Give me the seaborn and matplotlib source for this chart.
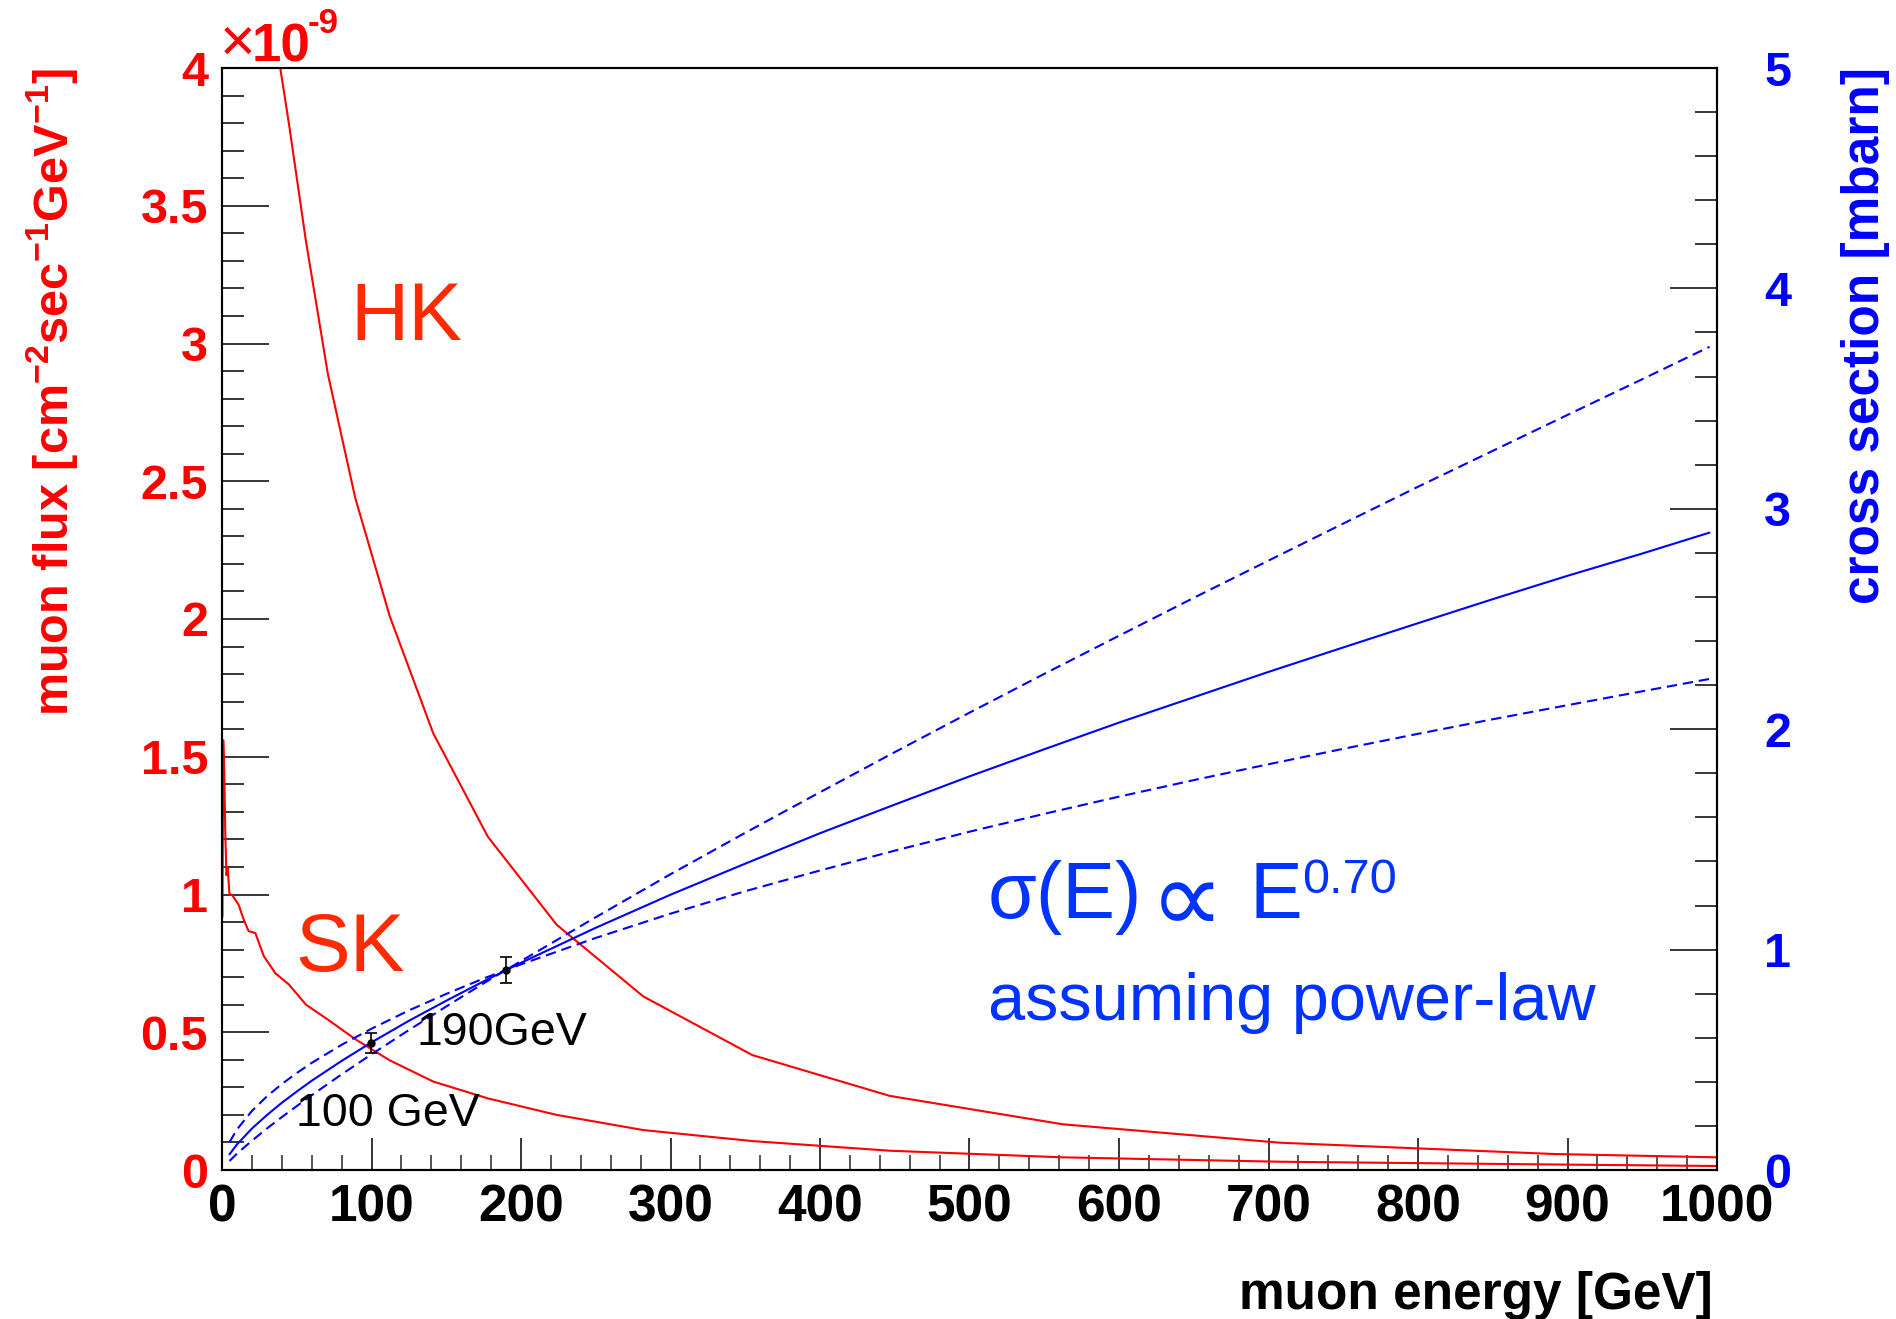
import matplotlib
matplotlib.use("Agg")
import matplotlib.pyplot as plt
from matplotlib.ticker import MultipleLocator
import numpy as np
import pandas as pd
import seaborn as sns

# ---------------- data ----------------
# HK muon flux, units of 1e-9 cm^-2 s^-1 GeV^-1
hk_energy = [35.5, 44.7, 56.2, 70.8, 89.1, 112.2, 141.3, 177.8, 223.9, 281.8,
             354.8, 446.7, 562.3, 707.9, 891.3, 1000]
hk_flux = [4.12, 3.80, 3.37, 2.89, 2.44, 2.01, 1.585, 1.21, 0.89, 0.63,
           0.417, 0.269, 0.166, 0.099, 0.058, 0.046]

# SK muon flux, units of 1e-9
sk_energy = [0.3, 0.8, 1.5, 2.2, 3.0, 3.8, 4.5, 5.0, 6.7, 11.1, 14.5, 17.8,
             22.3, 27.9, 35.7, 44.6, 56.2, 70.8, 89.1, 112.2, 141.3, 177.8,
             223.9, 281.8, 354.8, 446.7, 562.3, 707.9, 891.3, 1000]
sk_flux = [0.92, 1.56, 1.45, 1.22, 1.07, 1.10, 1.04, 1.00, 0.999, 0.963,
           0.909, 0.867, 0.86, 0.777, 0.714, 0.674, 0.60, 0.546, 0.475,
           0.398, 0.321, 0.26, 0.20, 0.145, 0.105, 0.070, 0.046, 0.030,
           0.020, 0.0145]

# cross section curves [mbarn]
xs_energy = [5, 10, 20, 30, 40, 50, 60, 80, 100, 125, 150, 175, 200, 250,
             300, 350, 400, 450, 500, 550, 600, 650, 700, 750, 800, 850,
             900, 950, 995]
xs_central = [0.071, 0.116, 0.188, 0.249, 0.305, 0.356, 0.405, 0.495, 0.579,
              0.677, 0.768, 0.856, 0.940, 1.099, 1.249, 1.390, 1.528, 1.658,
              1.786, 1.909, 2.030, 2.145, 2.260, 2.371, 2.481, 2.590, 2.696,
              2.797, 2.892]
xs_steep = [0.041, 0.074, 0.133, 0.188, 0.240, 0.290, 0.339, 0.434, 0.525,
            0.635, 0.742, 0.847, 0.948, 1.147, 1.342, 1.530, 1.714, 1.896,
            2.075, 2.251, 2.424, 2.596, 2.765, 2.933, 3.100, 3.263, 3.426,
            3.588, 3.735]
xs_flat = [0.126, 0.184, 0.268, 0.334, 0.390, 0.440, 0.486, 0.568, 0.641,
           0.724, 0.799, 0.869, 0.933, 1.053, 1.163, 1.265, 1.359, 1.449,
           1.535, 1.616, 1.694, 1.769, 1.841, 1.911, 1.979, 2.045, 2.109,
           2.172, 2.228]

# measured points
meas_energy = [100, 190]
meas_xs = [0.578, 0.907]
meas_err = [0.045, 0.058]

x_ticks = list(range(0, 1001, 100))
flux_ticks = [0, 0.5, 1, 1.5, 2, 2.5, 3, 3.5, 4]
xs_ticks = [0, 1, 2, 3, 4, 5]

# ---------------- style ----------------
sns.set_style("white")
plt.rcParams["font.family"] = ["Liberation Sans", "DejaVu Sans"]
plt.rcParams["font.weight"] = "bold"
plt.rcParams["mathtext.fontset"] = "custom"
plt.rcParams["mathtext.rm"] = "Liberation Sans:bold"
plt.rcParams["mathtext.bf"] = "Liberation Sans:bold"
plt.rcParams["mathtext.it"] = "Liberation Sans:bold"
plt.rcParams["mathtext.default"] = "regular"

W, H = 1896, 1319
fig = plt.figure(figsize=(W / 100, H / 100), dpi=100)
fig.patch.set_facecolor("white")

L, R, T, B = 222, 1717, 68, 1170
ax = fig.add_axes([L / W, 1 - B / H, (R - L) / W, (B - T) / H])
ax2 = ax.twinx()

def fx(px):
    return px / W

def fy(py):
    return 1 - py / H

RED = "#ff0000"
BLUE = "#0000ff"

hk = pd.DataFrame({"E": hk_energy, "F": hk_flux})
sk = pd.DataFrame({"E": sk_energy, "F": sk_flux})
xs = pd.DataFrame({"E": xs_energy, "c": xs_central, "s": xs_steep, "f": xs_flat})

sns.lineplot(data=hk, x="E", y="F", ax=ax, color=RED, lw=1.5,
             estimator=None, sort=False)
sns.lineplot(data=sk, x="E", y="F", ax=ax, color=RED, lw=1.5,
             estimator=None, sort=False)

sns.lineplot(data=xs, x="E", y="c", ax=ax2, color=BLUE, lw=1.5,
             estimator=None, sort=False)
sns.lineplot(data=xs, x="E", y="s", ax=ax2, color=BLUE, lw=1.5,
             estimator=None, sort=False, linestyle=(0, (5, 2.8)))
sns.lineplot(data=xs, x="E", y="f", ax=ax2, color=BLUE, lw=1.5,
             estimator=None, sort=False, linestyle=(0, (5, 2.8)))
ax2.errorbar(meas_energy, meas_xs, yerr=meas_err, fmt="o", color="black",
             ms=5, capsize=4.5, elinewidth=1.2, capthick=1.2, zorder=5)

# ---------------- axes ----------------
ax.set_xlim(0, 1000)
ax.set_ylim(0, 4)
ax2.set_ylim(0, 5)
ax.set_xlabel("")
ax.set_ylabel("")
ax2.set_xlabel("")
ax2.set_ylabel("")

ax.set_xticks(x_ticks)
ax.set_xticklabels([str(v) for v in x_ticks])
ax.xaxis.set_minor_locator(MultipleLocator(20))
ax.set_yticks(flux_ticks)
ax.set_yticklabels([f"{v:g}" for v in flux_ticks])
ax.yaxis.set_minor_locator(MultipleLocator(0.1))
ax2.set_yticks(xs_ticks)
ax2.set_yticklabels([str(v) for v in xs_ticks])
ax2.yaxis.set_minor_locator(MultipleLocator(0.2))

ax.tick_params(axis="x", which="major", direction="in", length=22.8, width=1.1,
               bottom=True, top=False, labelsize=37, pad=10, colors="black")
ax.tick_params(axis="x", which="minor", direction="in", length=10.8, width=1.1,
               bottom=True, top=False)
ax.tick_params(axis="y", which="major", direction="in", length=33.6, width=1.1,
               left=True, right=False, labelsize=35, pad=10, labelcolor=RED,
               color="black")
ax.tick_params(axis="y", which="minor", direction="in", length=16.0, width=1.1,
               left=True, right=False, color="black")
ax2.tick_params(axis="y", which="major", direction="in", length=33.6, width=1.1,
                right=True, left=False, labelsize=35, pad=34, labelcolor=BLUE,
                color="black")
ax2.tick_params(axis="y", which="minor", direction="in", length=16.0, width=1.1,
                right=True, left=False, color="black")
ax2.tick_params(axis="x", which="both", bottom=False, top=False,
                labelbottom=False)

for a in (ax, ax2):
    for sp in a.spines.values():
        sp.set_color("black")
        sp.set_linewidth(1.5)
        sp.set_visible(True)
ax.grid(False)
ax2.grid(False)

for lbl in ax.get_xticklabels() + ax.get_yticklabels() + ax2.get_yticklabels():
    lbl.set_fontweight("bold")

# ---------------- axis titles ----------------
fig.text(fx(1713), fy(1309), "muon energy [GeV]", ha="right", va="baseline",
         fontsize=37, fontweight="bold", color="black")
fig.text(fx(52), fy(68), r"muon flux [cm$^{-2}$sec$^{-1}$GeV$^{-1}$]",
         rotation=90, ha="center", va="top", fontsize=35, fontweight="bold",
         color=RED)
fig.text(fx(1866), fy(67), "cross section [mbarn]", rotation=90, ha="center",
         va="top", fontsize=37, fontweight="bold", color=BLUE)

# multiplier on flux axis
fig.text(fx(220), fy(61), "\u00d7", ha="left", va="baseline", fontsize=44,
         fontweight="normal", color=RED)
fig.text(fx(252), fy(61), "10", ha="left", va="baseline", fontsize=38,
         fontweight="bold", color=RED)
fig.text(fx(308), fy(33), "-9", ha="left", va="baseline", fontsize=25,
         fontweight="bold", color=RED)

# ---------------- annotations ----------------
ORANGE_RED = "#ff2a00"
fig.text(fx(350), fy(340), "HK", ha="left", va="baseline", fontsize=58,
         fontweight="normal", color=ORANGE_RED)
fig.text(fx(295), fy(971), "SK", ha="left", va="baseline", fontsize=59,
         fontweight="normal", color=ORANGE_RED)
fig.text(fx(417), fy(1045), "190GeV", ha="left", va="baseline", fontsize=33.5,
         fontweight="normal", color="black")
fig.text(fx(296), fy(1126), "100 GeV", ha="left", va="baseline", fontsize=33.5,
         fontweight="normal", color="black")

TXT_BLUE = "#0033ff"
fig.text(fx(988), fy(918), "\u03c3(E)", ha="left", va="baseline", fontsize=57,
         fontweight="normal", color=TXT_BLUE)
fig.text(fx(1150), fy(933), "\u221d", ha="left", va="baseline", fontsize=75,
         fontweight="normal", color=TXT_BLUE,
         family=["DejaVu Sans", "Liberation Sans"])
fig.text(fx(1250), fy(918), "E", ha="left", va="baseline", fontsize=57,
         fontweight="normal", color=TXT_BLUE)
fig.text(fx(1302), fy(893), "0.70", ha="left", va="baseline", fontsize=35,
         fontweight="normal", color=TXT_BLUE)
fig.text(fx(988), fy(1020), "assuming power-law", ha="left", va="baseline",
         fontsize=48, fontweight="normal", color=TXT_BLUE)

fig.savefig("out.png", dpi=100, facecolor="white")
